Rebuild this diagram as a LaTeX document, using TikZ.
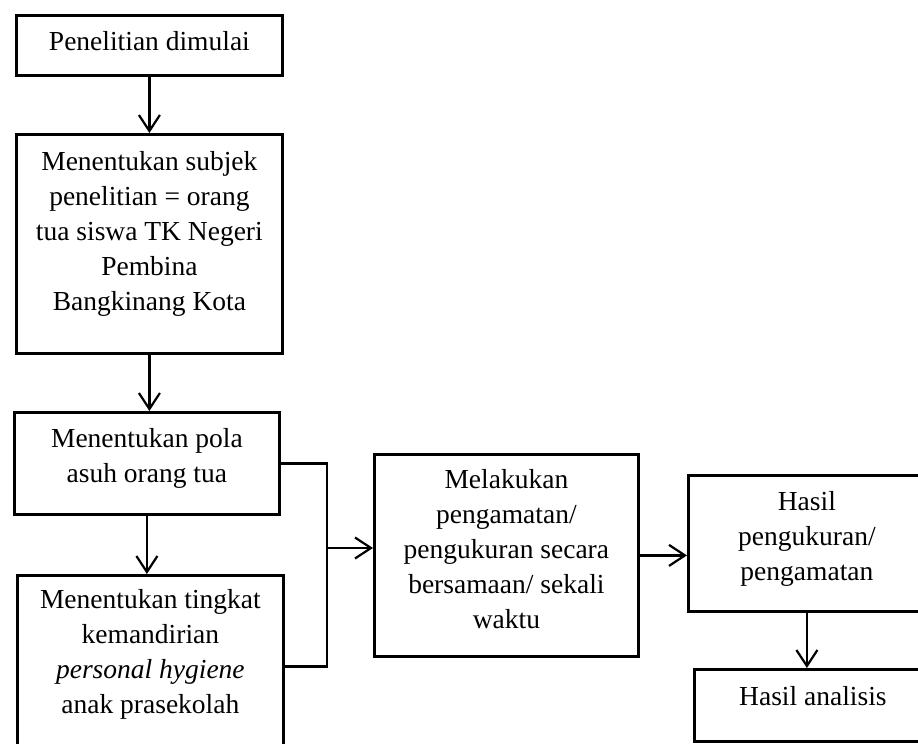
\documentclass[tikz,border=0pt]{standalone}
\usepackage{fontspec}
\setmainfont{Liberation Serif}
\usetikzlibrary{arrows.meta,positioning}

\begin{document}
\begin{tikzpicture}[
    x=1pt, y=-1pt,
    font=\fontsize{27.5}{35}\selectfont,
    >={Straight Barb[length=16pt,width=21pt]},
    box/.style={draw, line width=2.8pt, inner sep=0pt, anchor=north west},
    txt/.style={align=center, inner sep=0pt},
    link/.style={line width=2.2pt},
    arrow/.style={->, line width=2.2pt}
]
\useasboundingbox (0,0) rectangle (918,744);
\clip (0,0) rectangle (918,744);
% boxes
\node[box, minimum width=266pt, minimum height=60pt] (start) at (15,14) {};
\node[box, minimum width=266pt, minimum height=219pt] (subjek) at (15,133) {};
\node[box, minimum width=265pt, minimum height=102pt] (pola) at (13,411) {};
\node[box, minimum width=266pt, minimum height=182pt] (tingkat) at (16,574) {};
\node[box, minimum width=264pt, minimum height=202pt] (amati) at (373,453) {};
\node[box, minimum width=237pt, minimum height=136pt] (hasil) at (687,474) {};
\node[box, minimum width=237pt, minimum height=72pt] (analisis) at (693,668) {};
% texts
\node[txt, below=17pt of start.north] (start-t) {Penelitian dimulai};
\node[txt, below=18pt of subjek.north] (subjek-t) {Menentukan subjek\\penelitian = orang\\tua siswa TK Negeri\\Pembina\\Bangkinang Kota};
\node[txt, below=17pt of pola.north] (pola-t) {Menentukan pola\\asuh orang tua};
\node[txt, below=15pt of tingkat.north] (tingkat-t) {Menentukan tingkat\\kemandirian\\\textit{personal hygiene}\\anak prasekolah};
\node[txt, below=16pt of amati.north] (amati-t) {Melakukan\\pengamatan/\\pengukuran secara\\bersamaan/ sekali\\waktu};
\node[txt, below=17pt of hasil.north] (hasil-t) {Hasil\\pengukuran/\\pengamatan};
\node[txt, below=18pt of analisis.north] (analisis-t) {Hasil analisis};
% connectors
\coordinate (bus) at (327,548);
\draw[arrow] (start.south) -- (start.south |- subjek.north);
\draw[arrow] (subjek.south) -- (subjek.south |- pola.north);
\draw[arrow] (pola.south) -- (pola.south |- tingkat.north);
\draw[link] (pola.east) -| (bus) |- (tingkat.east);
\draw[arrow] (bus) -- (bus -| amati.west);
\draw[arrow] (amati.east) -- (amati.east -| hasil.west);
\draw[arrow] (hasil.south) -- (hasil.south |- analisis.north);
\end{tikzpicture}
\end{document}
